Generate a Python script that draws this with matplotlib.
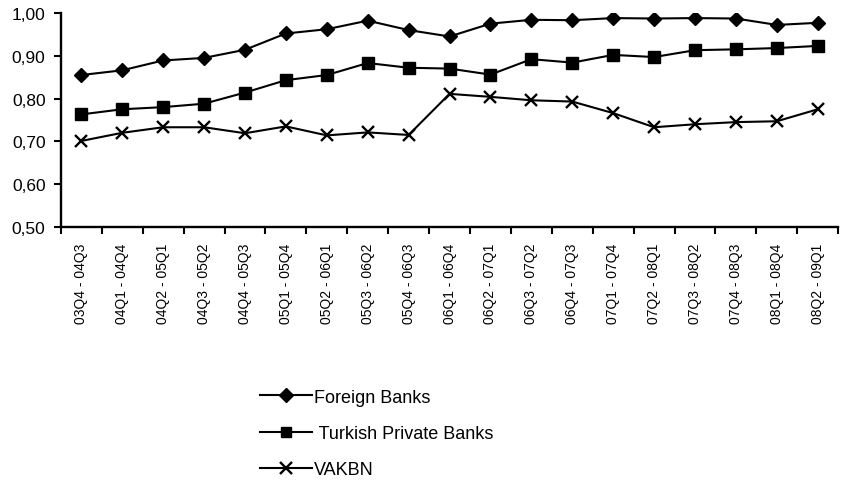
import matplotlib
matplotlib.use("Agg")
import matplotlib.pyplot as plt
from matplotlib.ticker import FuncFormatter, FixedLocator

plt.rcParams['font.family'] = ['Liberation Sans', 'DejaVu Sans']

periods = ["03Q4 - 04Q3", "04Q1 - 04Q4", "04Q2 - 05Q1", "04Q3 - 05Q2", "04Q4 - 05Q3",
           "05Q1 - 05Q4", "05Q2 - 06Q1", "05Q3 - 06Q2", "05Q4 - 06Q3", "06Q1 - 06Q4",
           "06Q2 - 07Q1", "06Q3 - 07Q2", "06Q4 - 07Q3", "07Q1 - 07Q4", "07Q2 - 08Q1",
           "07Q3 - 08Q2", "07Q4 - 08Q3", "08Q1 - 08Q4", "08Q2 - 09Q1"]
foreign = [0.855, 0.866, 0.889, 0.895, 0.914, 0.952, 0.962, 0.982, 0.960, 0.945,
           0.975, 0.984, 0.983, 0.988, 0.987, 0.988, 0.987, 0.972, 0.977]
turkish = [0.763, 0.775, 0.780, 0.788, 0.814, 0.843, 0.855, 0.883, 0.872, 0.870,
           0.856, 0.892, 0.884, 0.902, 0.897, 0.913, 0.915, 0.918, 0.923]
vakbn = [0.701, 0.720, 0.733, 0.733, 0.719, 0.735, 0.714, 0.721, 0.715, 0.811,
         0.804, 0.796, 0.793, 0.766, 0.733, 0.740, 0.745, 0.747, 0.775]

fig = plt.figure(figsize=(8.45, 4.81), dpi=100)
ax = fig.add_axes([0.072, 0.526, 0.920, 0.445])

x = list(range(len(periods)))
l1, = ax.plot(x, foreign, color='black', lw=1.5, marker='D', ms=7.5, label='Foreign Banks')
l2, = ax.plot(x, turkish, color='black', lw=1.5, marker='s', ms=8.5, label=' Turkish Private Banks')
l3, = ax.plot(x, vakbn, color='black', lw=1.5, marker='x', ms=9, mew=1.7, label='VAKBN')

ax.set_xlim(-0.5, len(periods) - 0.5)
ax.set_ylim(0.5, 1.0)
ax.set_yticks([0.5, 0.6, 0.7, 0.8, 0.9, 1.0])
ax.yaxis.set_major_formatter(FuncFormatter(lambda v, p: f"{v:.2f}".replace('.', ',')))

ax.set_xticks(x)
ax.set_xticklabels(periods, rotation=90, fontsize=10)
ax.tick_params(axis='x', which='major', length=0, pad=11)
ax.xaxis.set_minor_locator(FixedLocator([i - 0.5 for i in range(len(periods) + 1)]))
ax.tick_params(axis='x', which='minor', length=5, width=1.5, direction='out')
ax.tick_params(axis='y', length=5, width=1.5, direction='out', labelsize=12.5, pad=6)

for s in ['top', 'right']:
    ax.spines[s].set_visible(False)
for s in ['left', 'bottom']:
    ax.spines[s].set_linewidth(1.7)

fig.legend(handles=[l1, l2, l3], loc='upper left', bbox_to_anchor=(0.299, 0.205),
           frameon=False, fontsize=13, handlelength=2.9, handletextpad=0.1,
           labelspacing=1.07, markerscale=0.9, borderaxespad=0.0)

fig.savefig('out.png', dpi=100)
